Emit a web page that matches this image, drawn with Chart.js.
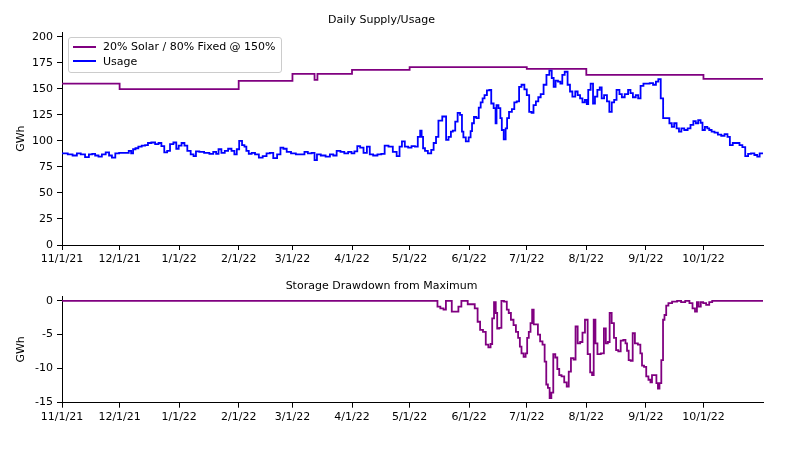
<!DOCTYPE html>
<html>
<head>
<meta charset="utf-8">
<script src="https://cdn.jsdelivr.net/npm/chart.js@4.4.0/dist/chart.umd.min.js"></script>
<style>
    html, body { margin: 0; padding: 0; background: #fff; }
    #wrap { position: relative; width: 800px; height: 450px; font-family: "DejaVu Sans", sans-serif; }
    #supply-chart { position: absolute; left: 0; top: 0; }
    #drawdown-chart { position: absolute; left: 0; top: 268px; }
    #legend {
        position: absolute; left: 68px; top: 37px; width: 212px; height: 34px;
        border: 1px solid #cccccc; border-radius: 3px; background: rgba(255, 255, 255, 0.8);
        font-size: 11px; color: #000; z-index: 2;
    }
    .legend-row { position: absolute; left: 4px; height: 14px; display: flex; align-items: center; white-space: nowrap; }
    .legend-swatch { display: inline-block; width: 23px; height: 2px; margin-right: 7px; }
</style>
</head>
<body>
<div id="wrap">
    <canvas id="supply-chart" width="800" height="268"></canvas>
    <canvas id="drawdown-chart" width="800" height="182"></canvas>
    <div id="legend"></div>
</div>
<script>
// x axis is days since 11/1/21
const monthTickDays = [0, 30, 61, 92, 120, 151, 181, 212, 242, 273, 304, 334];
const monthTickLabels = ["11/1/21", "12/1/21", "1/1/22", "2/1/22", "3/1/22", "4/1/22", "5/1/22",
    "6/1/22", "7/1/22", "8/1/22", "9/1/22", "10/1/22"];
const supplyTicks = [0, 25, 50, 75, 100, 125, 150, 175, 200];
const drawdownTicks = [0, -5, -10, -15];

// supply level holds from each day until the next one
const supplyDays = [0, 30, 92, 120, 131.5, 133, 151, 181, 242, 273, 334, 365];
const supplyGWh = [155, 149.7, 157.7, 164.4, 158.6, 164.4, 168.3, 170.9, 169.2, 163.5, 159.6, 159.6];

const usageDays = [
    0, 2, 4, 7, 8.5, 11, 13, 15, 16.5, 18, 20, 21.5, 24, 25, 27, 28.5,
    31, 34, 35.5, 36.5, 37.5, 39, 40.5, 42.5, 44, 45.5, 47.5, 49.5, 51, 52.5, 54, 55.5, 57, 59, 60,
    61.5, 63, 64.5, 66, 68, 69, 70.5, 72.5, 75.5, 78, 79.5, 81, 82, 84, 85.5, 87.5, 89, 90.5,
    91.5, 93, 94.5, 95.5, 96.5, 98, 99.5, 101.5, 103.5, 105.5, 107.5, 109, 111, 113, 114.5, 116, 118,
    120.5, 123, 125.5, 127, 129, 131, 132, 133.5, 136, 138.5, 140.5, 142, 144, 146, 148, 150,
    151.5, 153, 154.5, 156, 158, 159.5, 161, 163, 165.5, 167, 169, 171, 173.5, 175, 176.5, 177.5, 179.5,
    181, 183, 184.5, 186, 187, 187.5, 188.5, 189.5, 191.5, 193, 194, 195.5, 196.5, 199.5, 200.5, 202,
    203, 204, 205.5, 206.5, 208, 208.5, 209.5, 211,
    212.5, 213, 214, 215, 216.5, 217.5, 218.5, 219.5, 220.5, 222, 223, 224, 225.5, 226, 226.5, 228,
    228.5, 229.5, 230.5, 231.5, 232, 233.5, 235, 236, 237.5, 238.5, 240, 241.5,
    242.5, 244, 245, 246, 247.5, 248.5, 250, 251.5, 253, 254.5, 255.5, 256.5, 257.5, 259, 260, 261,
    262.5, 264, 265, 266.5, 268, 269, 270.5, 271.5,
    273, 273.5, 274.5, 276, 277, 278, 279.5, 280.5, 281.5, 283, 284.5, 285.5, 287, 288, 289.5, 291,
    292, 294, 295.5, 296.5, 298, 299.5, 300.5, 302,
    303.5, 305, 307, 308.5, 310, 311, 312.5, 313.5, 315.5, 317, 318, 319.5, 320.5, 322, 323, 325,
    326.5, 328, 329.5, 330.5, 332, 333,
    334, 335.5, 336.5, 337.5, 339, 340.5, 342.5, 344, 346, 347, 348.5, 350, 352, 353.5, 355, 356.5,
    358, 359.5, 361.5, 362.5, 364, 365
];
const usageGWh = [
    88, 88, 87, 86, 88, 87, 84.5, 87, 87.5, 86, 85, 87, 89, 86, 84, 88,
    88.5, 88.5, 90.5, 88, 92, 93, 94.5, 95.5, 96, 98, 98.5, 97, 98, 95, 89, 90.5, 97, 98.5, 92.5,
    95.5, 98, 95.5, 90.5, 87, 85.5, 90, 89.5, 88.5, 87.5, 89.5, 87.5, 92, 88.5, 90.5, 92.5, 90.5, 87,
    92, 100, 96, 94.5, 90.5, 87.5, 88.5, 87, 84, 85.5, 88, 88.5, 83.5, 87, 93.5, 92.5, 89.5,
    88, 87, 87, 89.5, 88, 88.5, 81.5, 87, 86, 85, 87, 86, 90.5, 89.5, 88, 89.5,
    88, 90, 95, 93.5, 88.5, 94.5, 87, 86, 87, 87.5, 95.5, 94.5, 89.5, 85.5, 94.5, 99.5, 94.5,
    93.5, 95, 94.5, 104, 110, 104, 93, 90.5, 88, 91.5, 98, 104, 119.5, 123.5, 101, 104,
    109, 110, 118.5, 127, 125, 109, 103.5, 99.5,
    103.5, 109.5, 117, 123, 122, 132, 137, 141, 144, 148.5, 149, 136, 131.5, 117, 134.5, 131.5,
    122, 110.5, 101.5, 112, 122, 128, 130.5, 137, 138, 152, 154, 149.5,
    144, 128, 127, 134.5, 138, 142, 145, 154, 163.5, 167.5, 160.5, 152, 158, 157, 155, 163.5,
    166.5, 154, 147.5, 142.5, 147.5, 144, 141, 137,
    139.5, 135.5, 149, 155, 136, 142.5, 149, 151.5, 141, 144, 138, 128, 137, 139.5, 149, 145,
    142, 145, 149, 146, 142, 144, 141, 153,
    155, 155, 155.5, 154, 157, 159.5, 141, 122, 122, 117, 113.5, 117, 112, 109, 112, 110.5,
    112, 115.5, 119, 117, 120, 117.5,
    110.5, 113.5, 112, 110.5, 109, 108, 106, 105, 106.5, 104, 96, 98, 98, 96, 94, 85.5,
    87.5, 88, 86.5, 85, 88, 88
];

const drawdownDays = [
    0, 195, 196, 198, 199.3, 200.5, 205.4, 207.4, 208.5, 214, 215.8, 217, 218.4, 220, 221.3, 222.7,
    223.6, 224.4, 225.5, 226.2, 227, 228.3, 229.3, 231, 232.2, 233, 234.5, 235.7, 237, 238, 238.8,
    239.7, 241, 241.8, 242.6, 243.5, 244.4, 245.2, 246, 247.3, 248.3, 249.6, 250.8, 251.8, 252.5,
    253.5, 254.3, 255.3, 256.3, 257.4, 258.4, 259.4, 260.8, 262.2, 263.4, 264.3, 265.7, 267, 267.8,
    269.2, 270.4, 271.6, 273, 274.4, 275.6, 276.4, 277.3, 278.2, 279.4, 281.7, 282.6, 283.7, 284.7,
    285.6, 286.8, 288, 289, 290.3, 291.5, 293, 293.8, 294.6, 295.5, 296.7, 297.6, 299, 300.7, 301.6,
    302.4, 303.7, 304.7, 306, 306.8, 307.6, 309, 310, 310.6, 311.6, 312.5, 313.4, 314, 315.2, 316.3,
    319, 321.5, 323.2, 325.8, 327.6, 329, 330.2, 331, 332, 333.2, 334.5, 336.3, 337.7, 339.4, 365
];
const drawdownGWh = [
    0, 0, -0.85, -1.1, -1.3, 0, -1.6, -0.85, 0, -0.5, -1.1, -3.1, -4.3, -4.6, -6.5, -6.9,
    -6.4, -2.6, -0.2, -1.8, -4.1, -4, 0, -0.1, -1.3, -1.8, -2.8, -3.6, -4.6, -5.5, -6.8,
    -7.8, -8.3, -7.8, -5.5, -4.6, -3.3, -1.3, -3.5, -3.5, -5, -6, -6.5, -9, -12.4,
    -12.9, -14.4, -13.6, -7.9, -8.4, -10.1, -11, -11.2, -12.1, -12.7, -10.5, -8.5, -8.7, -3.8,
    -6.3, -6.1, -4.7, -2.8, -7.9, -10.6, -11, -2.8, -6.3, -7.9, -7.8, -4.1, -6.3, -6.1,
    -1.8, -3.3, -5.5, -7.3, -7.5, -5.9, -5.8, -6.3, -7.4, -8.8, -8.9, -4.8, -6.3, -6.5, -7.8,
    -9.6, -9.8, -11.2, -11.7, -12.1, -11, -11, -12.2, -13, -12.2, -8.8, -2.8, -2.1, -0.7, -0.35,
    -0.1, 0, -0.2, 0, -0.35, -1.1, -1.6, -0.2, -0.85, -0.2, -0.35, -0.6, -0.2, 0, 0
];

const toPoints = (xs, ys) => xs.map((x, i) => ({ x: x, y: ys[i] }));

Chart.defaults.font.family = "'DejaVu Sans', sans-serif";
Chart.defaults.font.size = 11;
Chart.defaults.color = "#000";

function xAxis(height) {
    return {
        type: "linear",
        min: 0,
        max: 365,
        grid: { drawOnChartArea: false, drawTicks: true, tickLength: 5, color: "#000" },
        border: { display: true, color: "#000", width: 1 },
        afterBuildTicks: (scale) => { scale.ticks = monthTickDays.map((v) => ({ value: v })); },
        afterFit: (scale) => { scale.height = height; },
        ticks: {
            autoSkip: false,
            maxRotation: 0,
            padding: 3,
            callback: (value) => monthTickLabels[monthTickDays.indexOf(value)],
        },
    };
}

function yAxis(min, max, tickValues) {
    return {
        min: min,
        max: max,
        grid: { drawOnChartArea: false, drawTicks: true, tickLength: 5, color: "#000" },
        border: { display: true, color: "#000", width: 1 },
        afterBuildTicks: (scale) => { scale.ticks = tickValues.map((v) => ({ value: v })); },
        afterFit: (scale) => { scale.width = 62; },
        ticks: { padding: 4 },
        title: { display: true, text: "GWh", padding: { top: 15, bottom: 0 } },
    };
}

const supplyChart = new Chart(document.getElementById("supply-chart"), {
    type: "line",
    data: {
        datasets: [
            {
                label: "20% Solar / 80% Fixed @ 150%",
                data: toPoints(supplyDays, supplyGWh),
                borderColor: "#800080",
                borderWidth: 1.8,
                pointRadius: 0,
                stepped: "before",
                order: 1,
            },
            {
                label: "Usage",
                data: toPoints(usageDays, usageGWh),
                borderColor: "#0000ff",
                borderWidth: 1.8,
                pointRadius: 0,
                stepped: "middle",
                order: 0,
            },
        ],
    },
    options: {
        responsive: false,
        animation: false,
        layout: { padding: { left: 0, right: 37, top: 0, bottom: 0 } },
        plugins: {
            legend: { display: false },
            tooltip: { enabled: false },
            title: {
                display: true,
                text: "Daily Supply/Usage",
                font: { size: 11, weight: "normal" },
                padding: { top: 14, bottom: 5 },
            },
        },
        scales: { x: xAxis(23), y: yAxis(0, 204.5, supplyTicks) },
    },
});

new Chart(document.getElementById("drawdown-chart"), {
    type: "line",
    data: {
        datasets: [
            {
                label: "Drawdown",
                data: toPoints(drawdownDays, drawdownGWh),
                borderColor: "#800080",
                borderWidth: 1.8,
                pointRadius: 0,
                stepped: "middle",
            },
        ],
    },
    options: {
        responsive: false,
        animation: false,
        layout: { padding: { left: 0, right: 37, top: 0, bottom: 0 } },
        plugins: {
            legend: { display: false },
            tooltip: { enabled: false },
            title: {
                display: true,
                text: "Storage Drawdown from Maximum",
                font: { size: 11, weight: "normal" },
                padding: { top: 11.4, bottom: 3.4 },
            },
        },
        scales: { x: xAxis(47.3), y: yAxis(-15.1, 0.72, drawdownTicks) },
    },
});

// legend box sits inside the top plot, matplotlib style
const legend = document.getElementById("legend");
supplyChart.data.datasets.forEach((ds, i) => {
    const row = document.createElement("div");
    row.className = "legend-row";
    row.style.top = (1.7 + i * 14.5) + "px";
    const swatch = document.createElement("span");
    swatch.className = "legend-swatch";
    swatch.style.backgroundColor = ds.borderColor;
    const text = document.createElement("span");
    text.textContent = ds.label;
    row.appendChild(swatch);
    row.appendChild(text);
    legend.appendChild(row);
});
</script>
</body>
</html>
